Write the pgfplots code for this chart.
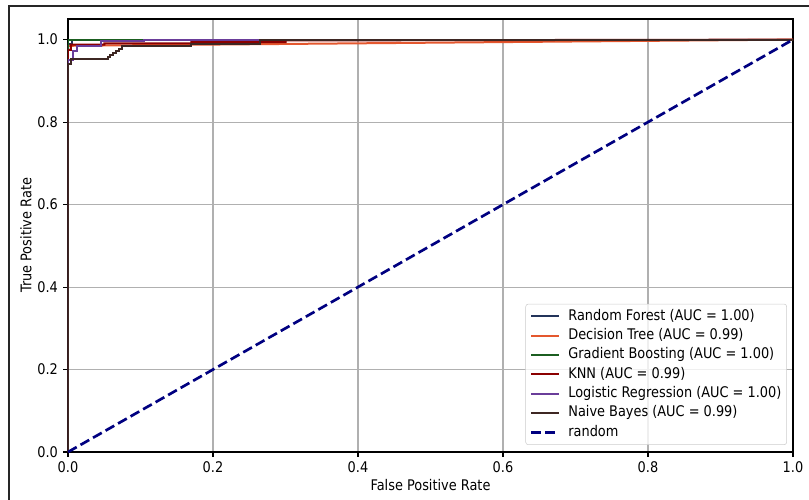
\documentclass[border=0pt]{standalone}
\usepackage{fontspec}
\setmainfont{DejaVu Sans}[FakeStretch=0.88]
\usepackage{pgfplots}
\pgfplotsset{compat=1.18}

\definecolor{rfcol}{RGB}{35,52,90}
\definecolor{dtcol}{RGB}{228,87,46}
\definecolor{gbcol}{RGB}{27,94,32}
\definecolor{knncol}{RGB}{139,0,0}
\definecolor{lrcol}{RGB}{106,61,154}
\definecolor{nbcol}{RGB}{62,39,35}
\definecolor{randcol}{RGB}{0,0,128}

\begin{document}
\fontsize{11}{13}\selectfont
\begin{tikzpicture}
% page = the screenshot, 1px = 0.75pt, axis box origin at (68,452)px
\useasboundingbox (-51pt,-35.25pt) rectangle (555.75pt,339pt);
\draw[line width=1.5pt, black!85] (-44.25pt,-40pt) -- (-44.25pt,334.5pt) -- (560pt,334.5pt);
\begin{axis}[
    scale only axis,
    width=543.75pt, height=324.75pt,
    xmin=0, xmax=1, ymin=0, ymax=1.05,
    xtick={0,0.2,0.4,0.6,0.8,1},
    ytick={0,0.2,0.4,0.6,0.8,1},
    xticklabels={0.0,0.2,0.4,0.6,0.8,1.0},
    yticklabels={0.0,0.2,0.4,0.6,0.8,1.0},
    xtick pos=bottom, ytick pos=left,
    tick align=outside,
    major tick length=3.7pt,
    major tick style={black, line width=0.8pt},
    axis line style={black, line width=0.8pt},
    grid=major,
    major grid style={black!31, line width=0.8pt},
    xlabel={False Positive Rate},
    ylabel={True Positive Rate},
    xlabel style={at={(axis description cs:0.5,-0.076)}, anchor=center},
    ylabel style={at={(axis description cs:-0.058,0.5)}, anchor=center},
    legend cell align=left,
    legend image code/.code={\draw[#1] (0pt,0pt) -- (21pt,0pt);},
    legend style={at={(0.9917,0.0162)}, anchor=south east,
        draw=black!20, rounded corners=2pt, fill=white, fill opacity=0.8,
        text opacity=1, draw opacity=1, inner xsep=3pt, inner ysep=3pt,
        row sep=2pt, column sep=5pt,
        nodes={inner sep=1pt, text height=8pt, text depth=2.5pt}},
    every axis plot/.append style={line width=1.5pt},
]
\addplot[rfcol] coordinates {(0,0) (0,0.99) (0.005,0.99) (0.005,1) (1,1)};
\addlegendentry{Random Forest (AUC = 1.00)}
\addplot[dtcol] coordinates {(0,0) (0,0.985) (1,1)};
\addlegendentry{Decision Tree (AUC = 0.99)}
\addplot[gbcol] coordinates {(0,0) (0,1) (1,1)};
\addlegendentry{Gradient Boosting (AUC = 1.00)}
\addplot[knncol] coordinates {
    (0,0) (0,0.975) (0.004,0.975) (0.004,0.988) (0.05,0.988) (0.05,0.991)
    (0.17,0.991) (0.17,0.994) (0.3,0.994) (0.3,0.998) (1,1)};
\addlegendentry{KNN (AUC = 0.99)}
\addplot[lrcol] coordinates {
    (0,0) (0,0.95) (0.007,0.95) (0.007,0.973) (0.012,0.973) (0.012,0.985)
    (0.045,0.985) (0.045,0.997) (0.105,0.997) (0.105,1) (1,1)};
\addlegendentry{Logistic Regression (AUC = 1.00)}
\addplot[nbcol] coordinates {
    (0,0) (0,0.94) (0.004,0.94) (0.004,0.953) (0.055,0.953) (0.055,0.958)
    (0.058,0.958) (0.058,0.963) (0.062,0.963) (0.062,0.968) (0.066,0.968)
    (0.066,0.973) (0.07,0.973) (0.07,0.978) (0.075,0.978) (0.075,0.984)
    (0.17,0.984) (0.17,0.99) (0.265,0.99) (0.265,1) (1,1)};
\addlegendentry{Naive Bayes (AUC = 0.99)}
\addplot[randcol, line width=2pt, dash pattern=on 7.5pt off 3.3pt] coordinates {(0,0) (1,1)};
\addlegendentry{random}
\end{axis}
\end{tikzpicture}
\end{document}
